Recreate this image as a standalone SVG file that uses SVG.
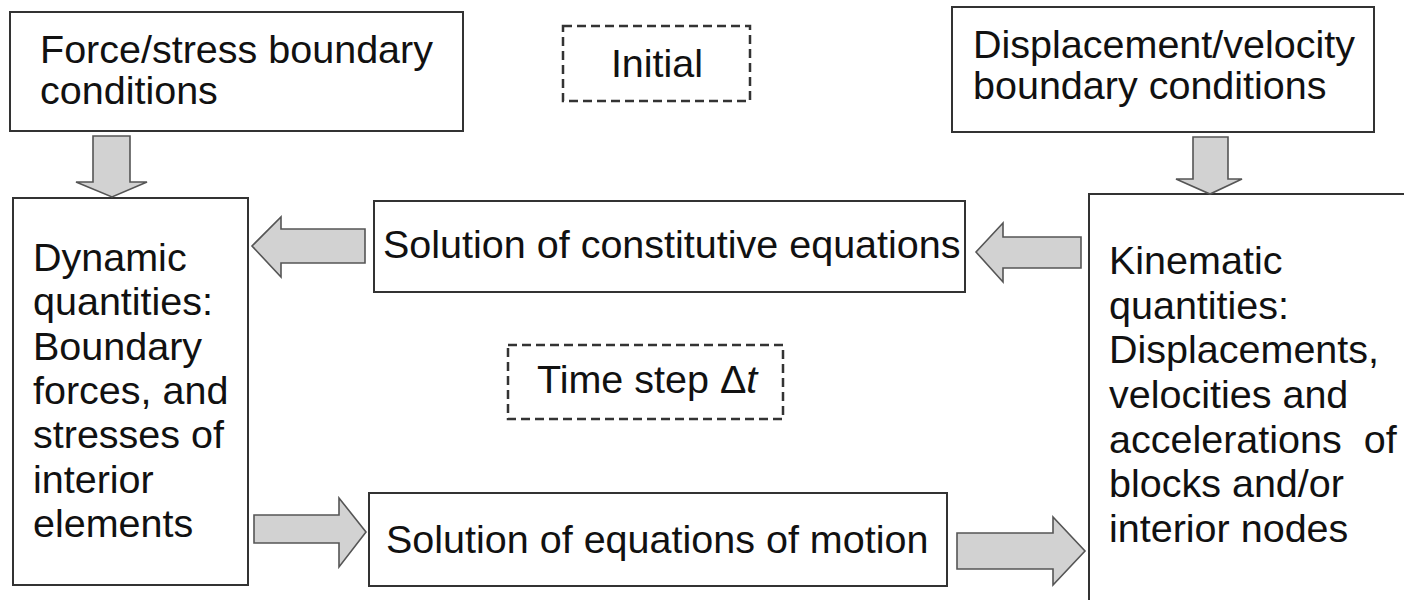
<svg xmlns="http://www.w3.org/2000/svg" width="1404" height="600" viewBox="0 0 1404 600">
<style>
.box{fill:#fff;stroke:#333;stroke-width:2}
.dash{fill:#fff;stroke:#333;stroke-width:2.5;stroke-dasharray:9 5}
.arr{fill:#d2d2d2;stroke:#555;stroke-width:1.6;stroke-linejoin:miter}
text{font-family:"Liberation Sans",Arial,sans-serif;font-size:39.5px;fill:#111}
</style>
<rect width="1404" height="600" fill="#fff"/>
<g id="force-bc">
<rect class="box" x="10" y="12" width="453" height="119"/>
<text x="40" y="63">Force/stress boundary</text>
<text x="40" y="104">conditions</text>
</g>
<g id="initial">
<rect class="dash" x="563" y="26" width="187" height="75"/>
<text x="657" y="77" text-anchor="middle">Initial</text>
</g>
<g id="disp-bc">
<rect class="box" x="952" y="7" width="422" height="125"/>
<text x="973" y="58">Displacement/velocity</text>
<text x="973" y="99">boundary conditions</text>
</g>
<g id="dynamic">
<rect class="box" x="13" y="198" width="235" height="387"/>
<text x="33" y="271">Dynamic</text>
<text x="33" y="315">quantities:</text>
<text x="33" y="360">Boundary</text>
<text x="33" y="404">forces, and</text>
<text x="33" y="448">stresses of</text>
<text x="33" y="493">interior</text>
<text x="33" y="537">elements</text>
</g>
<g id="constitutive">
<rect class="box" x="374" y="201" width="591" height="91"/>
<text x="383" y="258">Solution of constitutive equations</text>
</g>
<g id="timestep">
<rect class="dash" x="508" y="345" width="275" height="74"/>
<text x="537" y="393">Time step Δ<tspan font-style="italic">t</tspan></text>
</g>
<g id="motion">
<rect class="box" x="369" y="493" width="578" height="93"/>
<text x="386" y="553">Solution of equations of motion</text>
</g>
<g id="kinematic">
<rect class="box" x="1089" y="194" width="400" height="500"/>
<text x="1109" y="274">Kinematic</text>
<text x="1109" y="319">quantities:</text>
<text x="1109" y="363">Displacements,</text>
<text x="1109" y="408">velocities and</text>
<text x="1109" y="453" xml:space="preserve">accelerations  of</text>
<text x="1109" y="497">blocks and/or</text>
<text x="1109" y="542">interior nodes</text>
</g>
<g id="connectors">
<polygon class="arr" points="93,136 130,136 130,182 147,182 112,197 76,182 93,182"/>
<polygon class="arr" points="1193,137 1228,137 1228,179 1242,179 1210,194 1176,179 1193,179"/>
<polygon class="arr" points="365,229 365,263 281,263 281,277 252,246 281,217 281,229"/>
<polygon class="arr" points="1081,237 1081,268 1003,268 1003,282 976,252 1003,223 1003,237"/>
<polygon class="arr" points="254,515 339,515 339,498 366,532 339,567 339,543 254,543"/>
<polygon class="arr" points="957,533 1053,533 1053,517 1085,551 1053,585 1053,569 957,569"/>
</g>
</svg>
